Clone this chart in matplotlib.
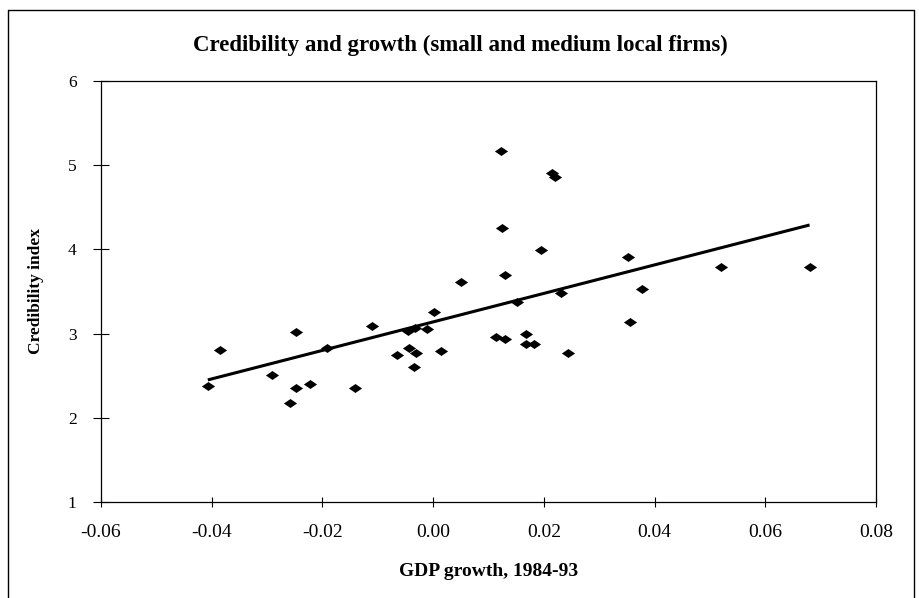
# -*- coding:UTF-8 -*-
# ---------------------------------------------------------------------------------------------------------------------#
# Credibility and growth scatter (small and medium local firms)
# ---------------------------------------------------------------------------------------------------------------------#


# ---------------------------------------------------#
# Import packages
# ---------------------------------------------------#
import matplotlib
matplotlib.use("Agg")
import matplotlib.pyplot as plt
from matplotlib.lines import Line2D
from matplotlib.path import Path
# ---------------------------------------------------#


# ---------------------------------------------------#
# Data
# ---------------------------------------------------#
gdp_growth = [
    -0.0407, -0.0385, -0.0291, -0.0247, -0.0247, -0.0259, -0.0223, -0.0192, -0.0141, -0.0111,
    -0.0065, -0.0046, -0.0033, -0.0011, -0.0043, -0.0031, -0.0034, 0.0001, 0.0014, 0.0050,
    0.0122, 0.0215, 0.0221, 0.0125, 0.0195, 0.0130, 0.0152, 0.0114, 0.0129, 0.0167,
    0.0168, 0.0182, 0.0244, 0.0231, 0.0352, 0.0377, 0.0355, 0.0520, 0.0680]
credibility = [
    2.38, 2.81, 2.51, 3.02, 2.35, 2.18, 2.40, 2.83, 2.35, 3.09,
    2.74, 3.03, 3.07, 3.06, 2.83, 2.77, 2.60, 3.26, 2.79, 3.61,
    5.17, 4.91, 4.86, 4.25, 3.99, 3.70, 3.38, 2.96, 2.93, 2.99,
    2.88, 2.88, 2.77, 3.48, 3.91, 3.53, 3.14, 3.79, 3.79]
# fitted trend line end points
trend_x = [-0.0407, 0.0680]
trend_y = [2.45, 4.29]

x_ticks = [-0.06, -0.04, -0.02, 0.00, 0.02, 0.04, 0.06, 0.08]
x_tick_labels = ["-0.06", "-0.04", "-0.02", "0.00", "0.02", "0.04", "0.06", "0.08"]
y_ticks = [1, 2, 3, 4, 5, 6]

title = "Credibility and growth (small and medium local firms)"
x_label = "GDP growth, 1984-93"
y_label = "Credibility index"
# ---------------------------------------------------#


# ---------------------------------------------------------------------------------------------------------------------#
# Figure
# ---------------------------------------------------------------------------------------------------------------------#
plt.rcParams["font.family"] = ["Liberation Serif", "DejaVu Serif"]
W, H = 920, 598
fig = plt.figure(figsize=(W / 100, H / 100), dpi=100)
# axes box in pixels: x 101 -> 876, y 81 -> 502
ax = fig.add_axes([101 / W, 1 - 502 / H, (876 - 101) / W, (502 - 81) / H])

# flattened diamond marker
diamond = Path([(-1, 0), (0, 0.68), (1, 0), (0, -0.68), (-1, 0)],
               [Path.MOVETO, Path.LINETO, Path.LINETO, Path.LINETO, Path.CLOSEPOLY])
ax.plot(gdp_growth, credibility, linestyle="none", marker=diamond, markersize=9.5,
        color="black", markeredgewidth=0)
ax.plot(trend_x, trend_y, color="black", linewidth=2.2, solid_capstyle="butt")

ax.set_xlim(-0.06, 0.08)
ax.set_ylim(1, 6)
ax.set_xticks(x_ticks)
ax.set_xticklabels(x_tick_labels)
ax.set_yticks(y_ticks)
ax.tick_params(axis="x", direction="inout", length=7, width=0.8, pad=12, labelsize=14)
ax.tick_params(axis="y", direction="inout", length=11, width=0.8, pad=12, labelsize=12.5)
for sp in ax.spines.values():
    sp.set_linewidth(0.9)
    sp.set_color("black")

ax.set_xlabel(x_label, fontsize=14, fontweight="bold", labelpad=16)
ax.set_ylabel(y_label, fontsize=12.5, fontweight="bold", labelpad=17)
fig.text(460 / W, 1 - 45 / H, title, ha="center", va="center", fontsize=16.5, fontweight="bold")

# outer frame of the chart (open at the bottom)
fx = [8 / W, 8 / W, 914 / W, 914 / W]
fy = [0.0, 1 - 10 / H, 1 - 10 / H, 0.0]
fig.add_artist(Line2D(fx, fy, transform=fig.transFigure, color="black", linewidth=1.0))

fig.savefig("out.png", dpi=100)
plt.close(fig)
# ---------------------------------------------------------------------------------------------------------------------#
